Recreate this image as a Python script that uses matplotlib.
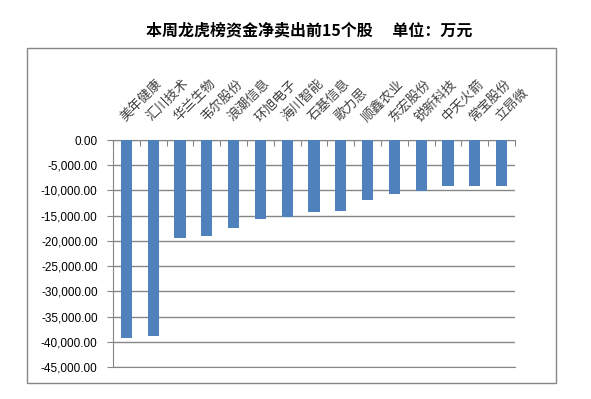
import matplotlib
matplotlib.use("Agg")
import matplotlib.pyplot as plt
from matplotlib.patches import Rectangle
from matplotlib.ticker import FuncFormatter, MultipleLocator

plt.rcParams["font.family"] = ["Noto Sans CJK SC", "DejaVu Sans"]

# 本周龙虎榜资金净卖出前15个股 (万元)
stocks = ["美年健康", "汇川技术", "华兰生物", "韦尔股份", "浪潮信息",
          "环旭电子", "海川智能", "石基信息", "歌力思", "顺鑫农业",
          "东宏股份", "锐新科技", "中天火箭", "常宝股份", "立昂微"]
net_sell = [-39300, -38800, -19400, -19000, -17400,
            -15600, -15200, -14300, -14100, -11900,
            -10750, -10150, -9200, -9200, -9200]

grid_color = "#868686"
bar_color = "#4F81BD"

fig = plt.figure(figsize=(5.91, 3.99), dpi=100)

# outer chart frame
fig.patches.append(Rectangle((0.0457, 0.0401), 0.8951, 0.8396,
                             transform=fig.transFigure, fill=False,
                             edgecolor=grid_color, linewidth=1.0))

ax = fig.add_axes([0.1912, 0.0802, 0.6802, 0.5689])
x = list(range(len(stocks)))
ax.bar(x, net_sell, width=0.42, color=bar_color, zorder=3)

ax.set_xlim(-0.5, len(stocks) - 0.5)
ax.set_ylim(-45000, 0)
ax.yaxis.set_major_locator(MultipleLocator(5000))
ax.yaxis.set_major_formatter(FuncFormatter(lambda v, _: f"{v:,.2f}"))
ax.grid(axis="y", color=grid_color, linewidth=1.0, zorder=0)

ax.spines["right"].set_visible(False)
for side in ["left", "top", "bottom"]:
    ax.spines[side].set_color(grid_color)

ax.tick_params(axis="y", length=4, color=grid_color, pad=7, labelsize=8.5)
for lbl in ax.get_yticklabels():
    lbl.set_family(["Liberation Sans", "DejaVu Sans"])

# x axis sits at zero (top): tick marks between categories, pointing into the plot
ax.xaxis.tick_top()
ax.set_xticks([i - 0.5 for i in range(len(stocks) + 1)])
ax.set_xticklabels([])
ax.tick_params(axis="x", direction="in", length=4, color=grid_color)

for i, name in enumerate(stocks):
    ax.annotate(name, xy=(i, 0), xytext=(-2.5, 15), textcoords="offset points",
                rotation=45, rotation_mode="anchor", ha="left", va="center",
                fontsize=9.5, color="#404040")

fig.text(0.523, 0.925, "本周龙虎榜资金净卖出前15个股\u3000 单位：万元",
         ha="center", va="center", fontsize=11.5, fontweight="bold")

fig.savefig("out.png", dpi=100)
